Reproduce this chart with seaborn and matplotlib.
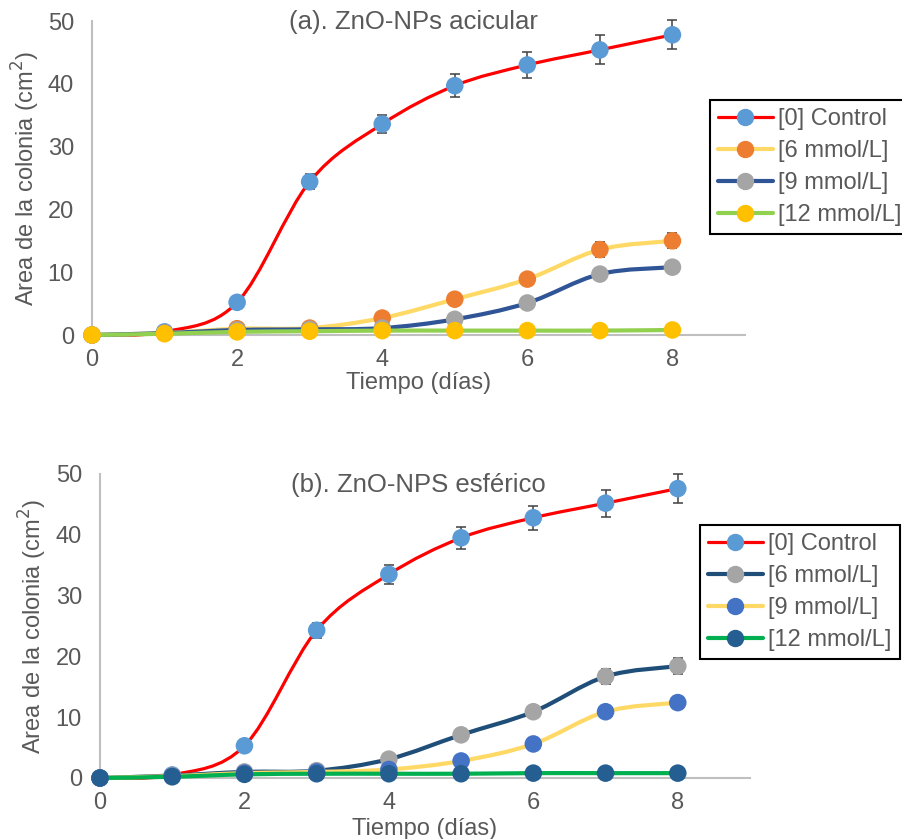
import numpy as np
import matplotlib
matplotlib.use("Agg")
import matplotlib.pyplot as plt
import seaborn as sns
import pandas as pd
from matplotlib.path import Path
from matplotlib.patches import PathPatch
from matplotlib.lines import Line2D

# ---------------- data ----------------
dias = [0, 1, 2, 3, 4, 5, 6, 7, 8]
series_names = ["[0] Control", "[6 mmol/L]", "[9 mmol/L]", "[12 mmol/L]"]

a_control = [0.0, 0.5, 5.2, 24.4, 33.6, 39.7, 43.0, 45.4, 47.8]
a_6 = [0.0, 0.3, 1.0, 1.1, 2.7, 5.7, 8.9, 13.6, 15.0]
a_9 = [0.0, 0.3, 0.8, 0.9, 1.1, 2.5, 5.1, 9.7, 10.8]
a_12 = [0.0, 0.2, 0.5, 0.6, 0.7, 0.7, 0.7, 0.7, 0.8]
a_control_err = [0.0, 0.2, 0.4, 1.2, 1.5, 1.8, 2.0, 2.3, 2.3]
a_6_err = [0.0, 0.1, 0.2, 0.2, 0.3, 0.5, 0.7, 1.2, 1.2]
a_9_err = [0.0, 0.1, 0.1, 0.1, 0.2, 0.3, 0.5, 0.7, 0.8]
a_12_err = [0.0, 0.05, 0.05, 0.05, 0.05, 0.05, 0.05, 0.05, 0.05]

b_control = [0.0, 0.5, 5.3, 24.3, 33.5, 39.5, 42.8, 45.2, 47.6]
b_6 = [0.0, 0.4, 1.0, 1.2, 3.1, 7.1, 10.9, 16.7, 18.4]
b_9 = [0.0, 0.3, 0.8, 1.0, 1.4, 2.8, 5.6, 10.9, 12.4]
b_12 = [0.0, 0.2, 0.6, 0.7, 0.7, 0.7, 0.8, 0.8, 0.8]
b_control_err = [0.0, 0.2, 0.4, 1.2, 1.6, 1.8, 2.0, 2.2, 2.4]
b_6_err = [0.0, 0.1, 0.2, 0.2, 0.3, 0.5, 0.7, 1.2, 1.3]
b_9_err = [0.0, 0.1, 0.1, 0.1, 0.2, 0.3, 0.5, 0.7, 0.8]
b_12_err = [0.0, 0.05, 0.05, 0.05, 0.05, 0.05, 0.05, 0.05, 0.05]

titles = ["(a). ZnO-NPs acicular", "(b). ZnO-NPS esférico"]
xlabel = "Tiempo (días)"
ylabel = "Area de la colonia (cm$^2$)"
xticks = [0, 2, 4, 6, 8]
yticks = [0, 10, 20, 30, 40, 50]

# styles: (line colour, marker colour, line width)
styles_a = [("#FF0000", "#5B9BD5", 2.3), ("#FFD966", "#ED7D31", 3.0),
            ("#2F5597", "#A5A5A5", 3.0), ("#92D050", "#FFC000", 3.0)]
styles_b = [("#FF0000", "#5B9BD5", 2.3), ("#1F4E79", "#A5A5A5", 3.0),
            ("#FFD966", "#4472C4", 3.0), ("#00B050", "#255E91", 3.0)]

sns.set_theme(style="white")
plt.rcParams["font.family"] = ["Liberation Sans", "DejaVu Sans"]

TXT = "#595959"
FS = 17


def smooth_path(xs, ys):
    pts = np.column_stack([xs, ys]).astype(float)
    n = len(pts)
    verts = [pts[0]]
    codes = [Path.MOVETO]
    for i in range(n - 1):
        p0 = pts[i - 1] if i > 0 else pts[i]
        p1 = pts[i]
        p2 = pts[i + 1]
        p3 = pts[i + 2] if i + 2 < n else pts[i + 1]
        c1 = p1 + (p2 - p0) / 6.0
        c2 = p2 - (p3 - p1) / 6.0
        verts += [c1, c2, p2]
        codes += [Path.CURVE4] * 3
    return Path(verts, codes)


W, H = 903, 839
fig = plt.figure(figsize=(W / 100, H / 100), dpi=100)
# axes boxes in pixels: (left, top, right, bottom)
box_a = (92, 21, 745, 335)
box_b = (100, 474, 750, 778)


def add_ax(b):
    l, t, r, bt = b
    return fig.add_axes([l / W, 1 - bt / H, (r - l) / W, (bt - t) / H])


ax_a = add_ax(box_a)
ax_b = add_ax(box_b)

panels = [
    (ax_a, box_a, [a_control, a_6, a_9, a_12], [a_control_err, a_6_err, a_9_err, a_12_err],
     styles_a, titles[0], (413, 22), (710, 100), 42, 372),
    (ax_b, box_b, [b_control, b_6, b_9, b_12], [b_control_err, b_6_err, b_9_err, b_12_err],
     styles_b, titles[1], (418, 485), (700, 525), 49, 818),
]

for ax, box, vals, errs, styles, title, tpos, lpos, ylab_x, xlab_y in panels:
    l, t, r, bt = box
    for k, (name, v, e, st) in enumerate(zip(series_names, vals, errs, styles)):
        lc, mc, lw = st
        patch = PathPatch(smooth_path(dias, v), facecolor="none", edgecolor=lc,
                          lw=lw, transform=ax.transData, zorder=2 + 2 * k,
                          capstyle="round")
        ax.add_patch(patch)
        ax.errorbar(dias, v, yerr=e, fmt="none", ecolor="#404040", elinewidth=1.1,
                    capsize=3.5, capthick=1.1, zorder=3 + 2 * k)
        df = pd.DataFrame({"x": dias, "y": v})
        sns.scatterplot(data=df, x="x", y="y", ax=ax, color=mc, s=160,
                        edgecolor="none", linewidth=0, zorder=3.5 + 2 * k, legend=False)
    ax.set_xlim(0, 9)
    ax.set_ylim(0, 50)
    ax.set_xticks(xticks)
    ax.set_yticks(yticks)
    ax.tick_params(axis="x", length=0, labelsize=FS, labelcolor=TXT, pad=10)
    ax.tick_params(axis="y", length=0, labelsize=FS, labelcolor=TXT, pad=13)
    for s in ["top", "right"]:
        ax.spines[s].set_visible(False)
    for s in ["left", "bottom"]:
        ax.spines[s].set_color("#BFBFBF")
        ax.spines[s].set_linewidth(1.5)
    ax.set_xlabel(xlabel, fontsize=FS, color=TXT)
    ax.xaxis.set_label_coords(0.5, -(xlab_y - bt) / (bt - t))
    ax.set_ylabel(ylabel, fontsize=FS, color=TXT)
    ax.yaxis.set_label_coords(-(l - ylab_x) / (r - l), 0.5)
    ax.text((tpos[0] - l) / (r - l), 1 - (tpos[1] - t) / (bt - t), title,
            transform=ax.transAxes, ha="center", va="center",
            fontsize=18.5, color=TXT)
    ax.patch.set_alpha(0)
    for child in ax.get_children():
        try:
            child.set_clip_on(False)
        except Exception:
            pass
    handles = [Line2D([0], [0], color=lc, lw=lw, marker="o", markersize=11.5,
                      markerfacecolor=mc, markeredgecolor=mc)
               for lc, mc, lw in styles]
    leg = ax.legend(handles, series_names, loc="upper left",
                    bbox_to_anchor=(lpos[0] / W, 1 - lpos[1] / H),
                    bbox_transform=fig.transFigure, fontsize=FS, frameon=True,
                    fancybox=False, edgecolor="black", framealpha=1,
                    handlelength=2.3, handletextpad=0.25, borderpad=0.35,
                    labelspacing=0.42, borderaxespad=0)
    leg.get_frame().set_linewidth(1.5)
    for tx in leg.get_texts():
        tx.set_color(TXT)

fig.savefig("out.png", dpi=100)
